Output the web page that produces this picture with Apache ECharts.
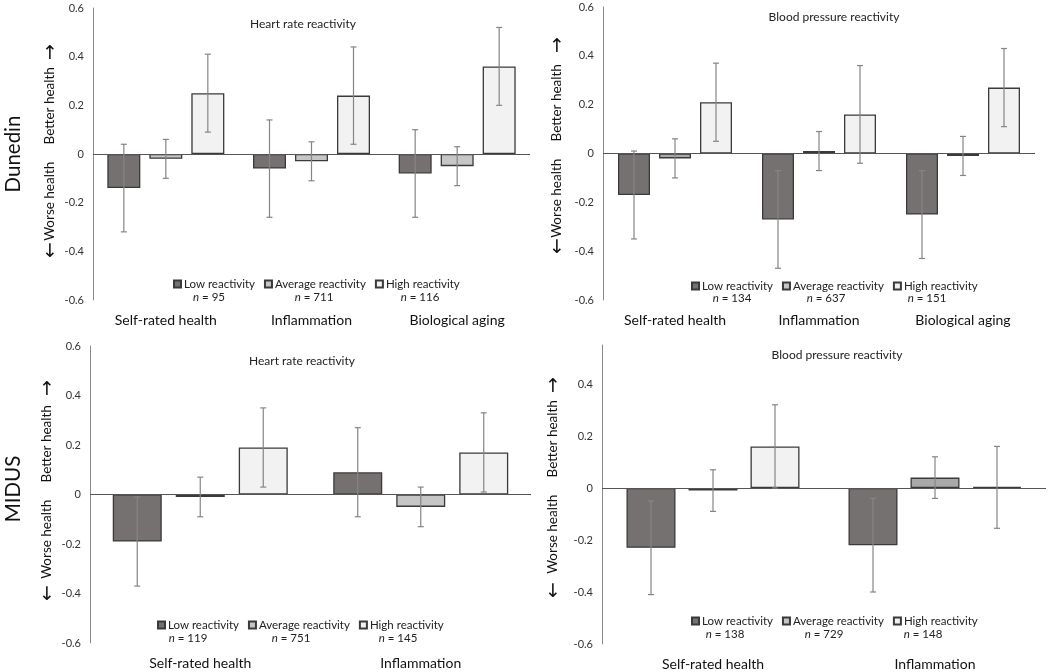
<!DOCTYPE html>
<html>
<head>
<meta charset="utf-8">
<script src="https://cdn.jsdelivr.net/npm/echarts@6/dist/echarts.min.js"></script>
<style>
  html, body { margin: 0; padding: 0; background: #fff; }
  #main { width: 1050px; height: 672px; }
</style>
</head>
<body>
<div id="main"></div>
<script>
let myChart = echarts.init(document.getElementById('main'))

const groups = ['Low reactivity', 'Average reactivity', 'High reactivity']
const dunedinCats = ['Self-rated health', 'Inflammation', 'Biological aging']
const midusCats = ['Self-rated health', 'Inflammation']
const yTicks = [-0.6, -0.4, -0.2, 0, 0.2, 0.4, 0.6]

// rows: low, average, high reactivity
const dunHrMeans = [[-0.14, -0.06, -0.08], [-0.02, -0.03, -0.05], [0.25, 0.24, 0.36]]
const dunHrLower = [[-0.32, -0.26, -0.26], [-0.10, -0.11, -0.13], [0.09, 0.04, 0.20]]
const dunHrUpper = [[0.04, 0.14, 0.10], [0.06, 0.05, 0.03], [0.41, 0.44, 0.52]]
const dunHrN = [95, 711, 116]

const dunBpMeans = [[-0.17, -0.27, -0.25], [-0.02, 0.01, -0.01], [0.21, 0.16, 0.27]]
const dunBpLower = [[-0.35, -0.47, -0.43], [-0.10, -0.07, -0.09], [0.05, -0.04, 0.11]]
const dunBpUpper = [[0.01, -0.07, -0.07], [0.06, 0.09, 0.07], [0.37, 0.36, 0.43]]
const dunBpN = [134, 637, 151]

const midHrMeans = [[-0.19, 0.09], [-0.01, -0.05], [0.19, 0.17]]
const midHrLower = [[-0.37, -0.09], [-0.09, -0.13], [0.03, 0.01]]
const midHrUpper = [[-0.01, 0.27], [0.07, 0.03], [0.35, 0.33]]
const midHrN = [119, 751, 145]

const midBpMeans = [[-0.23, -0.22], [-0.01, 0.04], [0.16, 0.005]]
const midBpLower = [[-0.41, -0.40], [-0.09, -0.04], [0.00, -0.155]]
const midBpUpper = [[-0.05, -0.04], [0.07, 0.12], [0.32, 0.16]]
const midBpN = [138, 729, 148]

const FONT = 'Lato'
const lowColor = '#767171'
const highColor = '#f2f2f2'

let panels = [
    { title: 'Heart rate reactivity', cats: dunedinCats, means: dunHrMeans, lower: dunHrLower, upper: dunHrUpper, n: dunHrN,
      grid: { left: 93, top: 8, width: 437, height: 292 }, max: 0.6, barW: 33, gap: 9, avgColor: '#c6c6c6',
      titlePos: [298, 13], legend: [173, 278], nX: [209, 314, 420], nY: 297 },
    { title: 'Blood pressure reactivity', cats: dunedinCats, means: dunBpMeans, lower: dunBpLower, upper: dunBpUpper, n: dunBpN,
      grid: { left: 603, top: 7, width: 432, height: 293 }, max: 0.6, barW: 32, gap: 9, avgColor: '#a9a9a9',
      titlePos: [829, 6], legend: [691, 280], nX: [732, 826, 927], nY: 298 },
    { title: 'Heart rate reactivity', cats: midusCats, means: midHrMeans, lower: midHrLower, upper: midHrUpper, n: midHrN,
      grid: { left: 90, top: 346, width: 441, height: 297 }, max: 0.6, barW: 49, gap: 14, avgColor: '#c6c6c6',
      titlePos: [297, 350], legend: [157, 619], nX: [188, 291, 398], nY: 638 },
    { title: 'Blood pressure reactivity', cats: midusCats, means: midBpMeans, lower: midBpLower, upper: midBpUpper, n: midBpN,
      grid: { left: 602, top: 345, width: 444, height: 299 }, max: 0.55, barW: 49, gap: 13, avgColor: '#a9a9a9',
      titlePos: [832, 344], legend: [691, 615], nX: [725, 824, 923], nY: 634 }
]

let option = {
    animation: false,
    textStyle: { fontFamily: FONT },
    title: [],
    legend: [],
    grid: [],
    xAxis: [],
    yAxis: [],
    series: [],
    graphic: []
}

panels.forEach((p, i) => {
    option.grid.push(p.grid)
    option.title.push({
        text: p.title,
        left: p.titlePos[0],
        top: p.titlePos[1],
        textAlign: 'center',
        textStyle: { fontFamily: FONT, fontSize: 12, fontWeight: 'normal', color: '#222' }
    })
    option.legend.push({
        data: groups,
        left: p.legend[0],
        top: p.legend[1],
        padding: 0,
        icon: 'rect',
        itemWidth: 7,
        itemHeight: 7,
        itemGap: 9,
        selectedMode: false,
        textStyle: { fontFamily: FONT, fontSize: 11.5, color: '#222', padding: [0, 0, 0, -2] }
    })
    option.xAxis.push({
        type: 'category',
        gridIndex: i,
        data: p.cats,
        axisLine: { show: false },
        axisTick: { show: false },
        axisLabel: { fontFamily: FONT, fontSize: 14, color: '#111', margin: 13 }
    })
    option.yAxis.push({
        type: 'value',
        gridIndex: i,
        min: -0.6,
        max: p.max,
        interval: 0.2,
        splitLine: { show: false },
        axisTick: { show: false },
        axisLine: { show: true, lineStyle: { color: '#8a8a8a', width: 1 } },
        axisLabel: {
            showMaxLabel: p.max === 0.6,
            fontFamily: FONT, fontSize: 11, color: '#333', margin: 9,
            formatter: v => {
                let t = yTicks.find(x => Math.abs(x - v) < 1e-6)
                if (t === undefined) return ''
                return t === 0 ? '0' : t.toFixed(1)
            }
        }
    })

    let colors = [lowColor, p.avgColor, highColor]
    groups.forEach((g, k) => {
        let s = {
            name: g,
            type: 'bar',
            xAxisIndex: i,
            yAxisIndex: i,
            data: p.means[k],
            barWidth: p.barW,
            barGap: (p.gap / p.barW * 100) + '%',
            itemStyle: { color: colors[k], borderColor: '#3a3a3a', borderWidth: 1.3 }
        }
        if (k === 0) {
            s.markLine = {
                silent: true,
                symbol: 'none',
                label: { show: false },
                lineStyle: { color: '#555', type: 'solid', width: 1 },
                data: [{ yAxis: 0 }]
            }
        }
        option.series.push(s)
    })

    // error bars
    groups.forEach((g, k) => {
        let errData = p.cats.map((c, j) => [j, p.lower[k][j], p.upper[k][j]])
        option.series.push({
            type: 'custom',
            xAxisIndex: i,
            yAxisIndex: i,
            z: 5,
            data: errData,
            renderItem: (params, api) => {
                let off = (k - 1) * (p.barW + p.gap)
                let lo = api.coord([api.value(0), api.value(1)])
                let hi = api.coord([api.value(0), api.value(2)])
                let x = lo[0] + off
                let cap = 3
                let st = { stroke: '#858585', lineWidth: 1.2 }
                return {
                    type: 'group',
                    children: [
                        { type: 'line', shape: { x1: x, y1: lo[1], x2: x, y2: hi[1] }, style: st },
                        { type: 'line', shape: { x1: x - cap, y1: lo[1], x2: x + cap, y2: lo[1] }, style: st },
                        { type: 'line', shape: { x1: x - cap, y1: hi[1], x2: x + cap, y2: hi[1] }, style: st }
                    ]
                }
            }
        })
    })

    // n labels under legend
    p.n.forEach((n, k) => {
        option.graphic.push({
            type: 'text',
            x: p.nX[k],
            y: p.nY,
            style: {
                text: '{i|n} = ' + n,
                rich: { i: { fontStyle: 'italic', fontFamily: FONT, fontSize: 11.5, fill: '#222' } },
                fontFamily: FONT,
                fontSize: 11.5,
                fill: '#222',
                align: 'center',
                verticalAlign: 'middle'
            }
        })
    })
})

// side labels (rotated to read bottom-to-top)
const yName = 'Worse health     Better health'
const sideLabels = [
    { text: 'Dunedin', x: 13, y: 154, size: 20.5 },
    { text: 'MIDUS', x: 13, y: 489, size: 20.5 },
    { text: yName, x: 50, y: 154, size: 13.5 },
    { text: yName, x: 557, y: 151, size: 13.5 },
    { text: yName, x: 47, y: 492, size: 13.5 },
    { text: yName, x: 553, y: 487, size: 13.5 }
]
sideLabels.forEach(l => {
    option.graphic.push({
        type: 'text',
        x: l.x,
        y: l.y,
        rotation: Math.PI / 2,
        style: {
            text: l.text,
            fontFamily: FONT,
            fontSize: l.size,
            fill: '#111',
            align: 'center',
            verticalAlign: 'middle'
        }
    })
})

// arrows at the ends of the side labels
const arrows = [
    { text: '\u2191', x: 50, y: 54 }, { text: '\u2193', x: 50, y: 252 },
    { text: '\u2191', x: 557, y: 47 }, { text: '\u2193', x: 557, y: 248 },
    { text: '\u2191', x: 47, y: 390 }, { text: '\u2193', x: 47, y: 595 },
    { text: '\u2191', x: 553, y: 387 }, { text: '\u2193', x: 553, y: 592 }
]
arrows.forEach(a => {
    option.graphic.push({
        type: 'text',
        x: a.x,
        y: a.y,
        style: {
            text: a.text,
            fontFamily: 'DejaVu Sans',
            fontSize: 19,
            fill: '#111',
            align: 'center',
            verticalAlign: 'middle'
        }
    })
})

myChart.setOption(option)
</script>
</body>
</html>
